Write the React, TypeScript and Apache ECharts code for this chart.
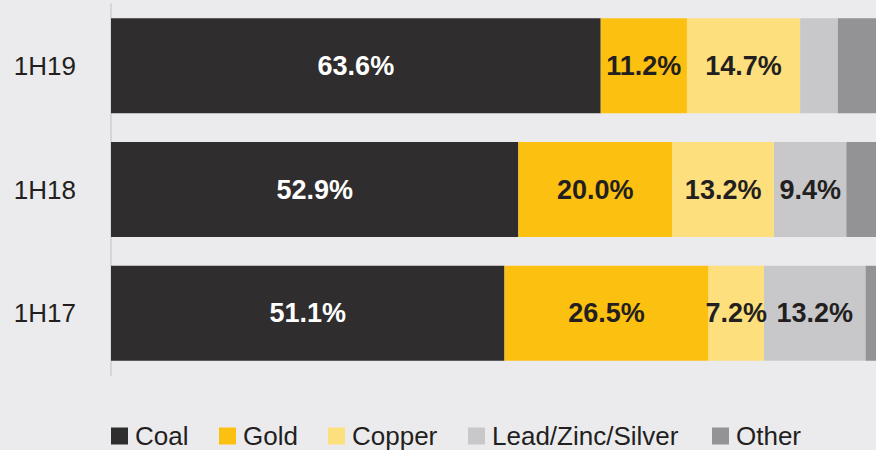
import React, { useEffect, useRef } from "react";
import * as echarts from "echarts";

const categories = ["1H19", "1H18", "1H17"];
const seriesNames = ["Coal", "Gold", "Copper", "Lead/Zinc/Silver", "Other"];
const coal = [63.6, 52.9, 51.1];
const gold = [11.2, 20.0, 26.5];
const copper = [14.7, 13.2, 7.2];
const leadZincSilver = [4.9, 9.4, 13.2];
const other = [5.6, 4.5, 2.0];
const showLabel = [
  [true, true, true],
  [true, true, true],
  [true, true, true],
  [false, true, true],
  [false, false, false],
];
const colors = ["#2f2d2e", "#fcc010", "#fddf7d", "#c8c8ca", "#939396"];
const labelColors = ["#ffffff", "#231f20", "#231f20", "#231f20", "#231f20"];
const legendLeft = [111, 219, 328, 468, 712];

const FONT = "'Liberation Sans', Arial, sans-serif";

export default function App() {
  const ref = useRef<HTMLDivElement>(null);
  useEffect(() => {
    if (!ref.current) return;
    const chart = echarts.init(ref.current, null, { renderer: "svg" });
    const values = [coal, gold, copper, leadZincSilver, other];
    chart.setOption({
      animation: false,
      backgroundColor: "#ebebed",
      textStyle: { fontFamily: FONT },
      grid: {
        left: 111,
        width: 770,
        top: 4,
        height: 371,
        containLabel: false,
        outerBoundsMode: "none",
      },
      legend: seriesNames.map((name, i) => ({
        left: legendLeft[i],
        top: 423,
        padding: 0,
        itemWidth: 17,
        itemHeight: 17,
        icon: "rect",
        textStyle: { fontSize: 26, color: "#231f20", fontFamily: FONT, padding: [0, 0, 0, 2] },
        data: [name],
      })),
      xAxis: { type: "value", min: 0, max: 100, show: false },
      yAxis: {
        type: "category",
        data: categories,
        inverse: true,
        axisLine: { show: true, lineStyle: { color: "#d6d6d8", width: 2 } },
        axisTick: { show: false },
        axisLabel: { fontSize: 26, color: "#231f20", margin: 35, fontFamily: FONT },
      },
      series: seriesNames.map((name, si) => ({
        name,
        type: "bar",
        stack: "total",
        barWidth: 95,
        itemStyle: { color: colors[si] },
        label: {
          show: true,
          position: "inside",
          color: labelColors[si],
          fontSize: 27,
          fontWeight: "bold",
          fontFamily: FONT,
          formatter: (p: any) => p.value.toFixed(1) + "%",
        },
        data: values[si].map((v, i) => ({ value: v, label: { show: showLabel[si][i] } })),
      })),
    });
    return () => chart.dispose();
  }, []);
  return (
    <div
      ref={ref}
      style={{ position: "absolute", left: 0, top: 0, width: 876, height: 450 }}
    />
  );
}
